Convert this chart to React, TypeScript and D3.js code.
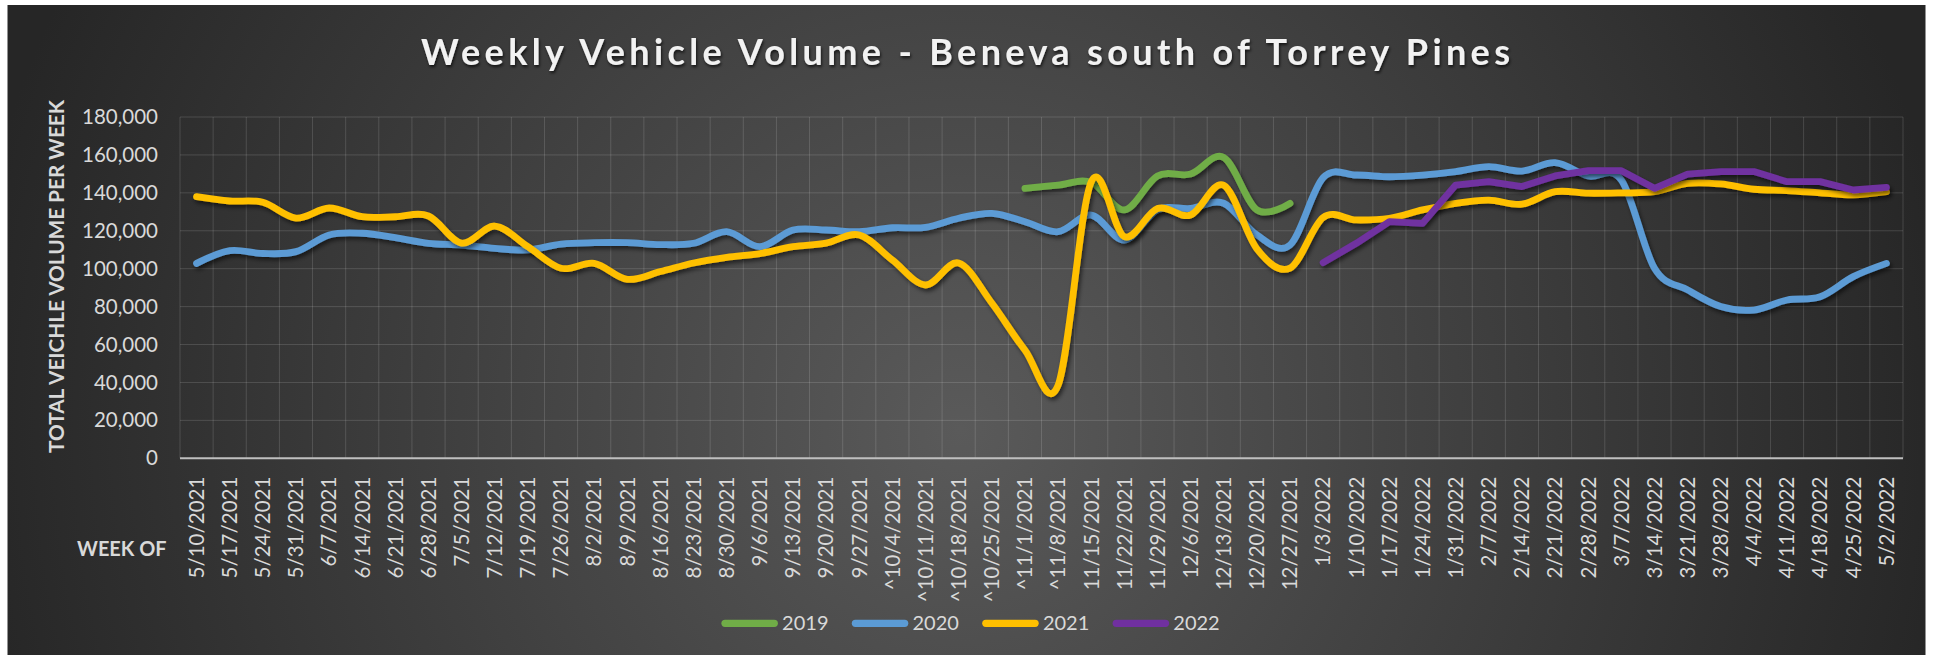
import React, { useEffect, useRef } from "react";
import * as d3 from "d3";

// week-of labels on the x axis
const weeks = [
  "5/10/2021", "5/17/2021", "5/24/2021", "5/31/2021", "6/7/2021", "6/14/2021",
  "6/21/2021", "6/28/2021", "7/5/2021", "7/12/2021", "7/19/2021", "7/26/2021",
  "8/2/2021", "8/9/2021", "8/16/2021", "8/23/2021", "8/30/2021", "9/6/2021",
  "9/13/2021", "9/20/2021", "9/27/2021", "^10/4/2021", "^10/11/2021", "^10/18/2021",
  "^10/25/2021", "^11/1/2021", "^11/8/2021", "11/15/2021", "11/22/2021", "11/29/2021",
  "12/6/2021", "12/13/2021", "12/20/2021", "12/27/2021", "1/3/2022", "1/10/2022",
  "1/17/2022", "1/24/2022", "1/31/2022", "2/7/2022", "2/14/2022", "2/21/2022",
  "2/28/2022", "3/7/2022", "3/14/2022", "3/21/2022", "3/28/2022", "4/4/2022",
  "4/11/2022", "4/18/2022", "4/25/2022", "5/2/2022"
];

const yTicks = [0, 20000, 40000, 60000, 80000, 100000, 120000, 140000, 160000, 180000];

// 2019 only covers ^11/1 .. 12/27
const start2019 = "^11/1/2021";
const v2019 = [142400, 144100, 145500, 131000, 148900, 149900, 158700, 131000, 134500];

const start2020 = "5/10/2021";
const v2020 = [
  102800, 109500, 108000, 109000, 117800, 118700, 116400, 113400, 112500, 110700,
  109900, 113000, 113700, 113700, 112700, 113400, 119500, 111600, 120400, 120400,
  119500, 121600, 121800, 126600, 129200, 124800, 119500, 128300, 115100, 131000,
  131800, 134500, 117800, 112500, 148000, 149400, 148500, 149400, 151200, 153800,
  151500, 155900, 148900, 146800, 100200, 88800, 80000, 78200, 83500, 85200,
  95800, 102800
];

const start2021 = "5/10/2021";
const v2021 = [
  138000, 135700, 135000, 126700, 132000, 127400, 127400, 127800, 113500, 122500,
  111600, 100200, 102800, 94400, 98500, 103000, 106000, 108000, 111600, 113500,
  117800, 104600, 91400, 103000, 81900, 57100, 38500, 145800, 116900, 131800,
  128300, 144000, 110500, 100300, 127000, 125700, 126600, 131000, 134500, 136200,
  134000, 140600, 139800, 140000, 140600, 145000, 144700, 141900, 141200, 140000,
  138900, 140600
];

// 2022 starts at 1/3
const start2022 = "1/3/2022";
const v2022 = [
  103200, 113400, 124800, 123900, 144100, 145900, 143300, 148900, 151700, 151700,
  142400, 149900, 151200, 151200, 145900, 145900, 141500, 142900
];

const seriesNames = ["2019", "2020", "2021", "2022"];
const seriesColors = ["#70ad47", "#5b9bd5", "#ffc000", "#7030a0"];

const FONT = "Lato, 'Open Sans', sans-serif";

export default function App() {
  const ref = useRef<SVGSVGElement>(null);

  useEffect(() => {
    document.body.style.margin = "0";
    const W = 1933;
    const H = 659;
    const left = 180, right = 1903, top = 117, bottom = 458.3;

    const svg = d3.select(ref.current);
    svg.selectAll("*").remove();

    const defs = svg.append("defs");
    const grad = defs
      .append("radialGradient")
      .attr("id", "bg")
      .attr("gradientUnits", "userSpaceOnUse")
      .attr("cx", 960)
      .attr("cy", 430)
      .attr("r", 1000);
    grad.append("stop").attr("offset", "0%").attr("stop-color", "#5a5a5a");
    grad.append("stop").attr("offset", "100%").attr("stop-color", "#262626");

    const shadow = defs
      .append("filter")
      .attr("id", "shadow")
      .attr("filterUnits", "userSpaceOnUse")
      .attr("x", 0).attr("y", 0).attr("width", W).attr("height", H);
    shadow
      .append("feDropShadow")
      .attr("dx", 2).attr("dy", 3).attr("stdDeviation", 2)
      .attr("flood-color", "#000").attr("flood-opacity", 0.55);

    const tshadow = defs
      .append("filter")
      .attr("id", "tshadow")
      .attr("filterUnits", "userSpaceOnUse")
      .attr("x", 0).attr("y", 0).attr("width", W).attr("height", H);
    tshadow
      .append("feDropShadow")
      .attr("dx", 1).attr("dy", 2).attr("stdDeviation", 1.5)
      .attr("flood-color", "#000").attr("flood-opacity", 0.7);

    svg.append("rect").attr("width", W).attr("height", H).attr("fill", "#fff");
    svg.append("rect")
      .attr("x", 7.5).attr("y", 5).attr("width", 1918).attr("height", 650)
      .attr("fill", "url(#bg)");

    const x = d3.scaleBand<string>().domain(weeks).range([left, right]);
    const bw = x.bandwidth();
    const xc = (w: string) => (x(w) as number) + bw / 2;
    const y = d3.scaleLinear().domain([0, 180000]).range([bottom, top]);

    // grid
    const grid = svg.append("g").attr("stroke", "#fff").attr("stroke-opacity", 0.14);
    grid.selectAll("line.h")
      .data(yTicks.filter(t => t > 0))
      .join("line")
      .attr("class", "h")
      .attr("x1", left).attr("x2", right)
      .attr("y1", d => y(d)).attr("y2", d => y(d));
    grid.selectAll("line.v")
      .data(weeks.concat(["end"]))
      .join("line")
      .attr("class", "v")
      .attr("x1", (d, i) => left + i * bw).attr("x2", (d, i) => left + i * bw)
      .attr("y1", top).attr("y2", bottom);

    // y axis
    const ya = svg.append("g")
      .attr("transform", "translate(158,0)")
      .call(d3.axisLeft(y).tickValues(yTicks).tickSize(0).tickPadding(0).tickFormat(d3.format(",")));
    ya.select(".domain").remove();
    ya.selectAll("text")
      .attr("fill", "#d9d9d9")
      .style("font-family", FONT)
      .style("font-size", "20.5px");

    // x axis
    const xa = svg.append("g")
      .attr("transform", `translate(0,${bottom})`)
      .call(d3.axisBottom(x).tickSize(0));
    xa.select(".domain").remove();
    xa.selectAll("text")
      .attr("transform", "rotate(-90)")
      .attr("x", -18.4)
      .attr("y", 7.3)
      .attr("dy", null)
      .attr("text-anchor", "end")
      .attr("fill", "#d9d9d9")
      .style("font-family", FONT)
      .style("font-size", "20.5px");

    svg.append("line")
      .attr("x1", left).attr("x2", right)
      .attr("y1", bottom).attr("y2", bottom)
      .attr("stroke", "#bfbfbf").attr("stroke-width", 2);

    // series
    const series = [
      { values: v2019, start: weeks.indexOf(start2019), smooth: true },
      { values: v2020, start: weeks.indexOf(start2020), smooth: true },
      { values: v2021, start: weeks.indexOf(start2021), smooth: true },
      { values: v2022, start: weeks.indexOf(start2022), smooth: false }
    ];

    series.forEach((s, k) => {
      const pts: [string, number][] = s.values.map((v, i) => [weeks[s.start + i], v]);
      const line = d3.line<[string, number]>()
        .x(d => xc(d[0]))
        .y(d => y(d[1]))
        .curve(s.smooth ? d3.curveCardinal.tension(0) : d3.curveLinear);
      svg.append("path")
        .datum(pts)
        .attr("d", line)
        .attr("fill", "none")
        .attr("stroke", seriesColors[k])
        .attr("stroke-width", 6.8)
        .attr("stroke-linecap", "round")
        .attr("stroke-linejoin", "round")
        .attr("filter", "url(#shadow)");
    });

    // titles
    svg.append("text")
      .attr("x", 421).attr("y", 65)
      .attr("textLength", 1089).attr("lengthAdjust", "spacing")
      .attr("fill", "#f2f2f2")
      .attr("filter", "url(#tshadow)")
      .style("font-family", FONT).style("font-weight", 700).style("font-size", "36px")
      .text("Weekly Vehicle Volume - Beneva south of Torrey Pines");

    svg.append("text")
      .attr("transform", "translate(64,276.5) rotate(-90)")
      .attr("text-anchor", "middle")
      .attr("textLength", 353).attr("lengthAdjust", "spacingAndGlyphs")
      .attr("fill", "#d9d9d9")
      .style("font-family", FONT).style("font-weight", 700).style("font-size", "20px")
      .text("TOTAL VEICHLE VOLUME PER WEEK");

    svg.append("text")
      .attr("x", 77).attr("y", 556)
      .attr("textLength", 89.5).attr("lengthAdjust", "spacingAndGlyphs")
      .attr("fill", "#d9d9d9")
      .style("font-family", FONT).style("font-weight", 700).style("font-size", "20px")
      .text("WEEK OF");

    // legend
    const lg = svg.append("g").selectAll("g")
      .data(seriesNames)
      .join("g")
      .attr("transform", (d, i) => `translate(${721.4 + 130.4 * i},623.3)`);
    lg.append("line")
      .attr("x1", 3.6).attr("x2", 52.9)
      .attr("stroke", (d, i) => seriesColors[i])
      .attr("stroke-width", 7.2)
      .attr("stroke-linecap", "round");
    lg.append("text")
      .attr("x", 60.7).attr("y", 7)
      .attr("fill", "#d9d9d9")
      .style("font-family", FONT).style("font-size", "20px")
      .text(d => d);
  }, []);

  return <svg ref={ref} width={1933} height={659} style={{ display: "block" }} />;
}
